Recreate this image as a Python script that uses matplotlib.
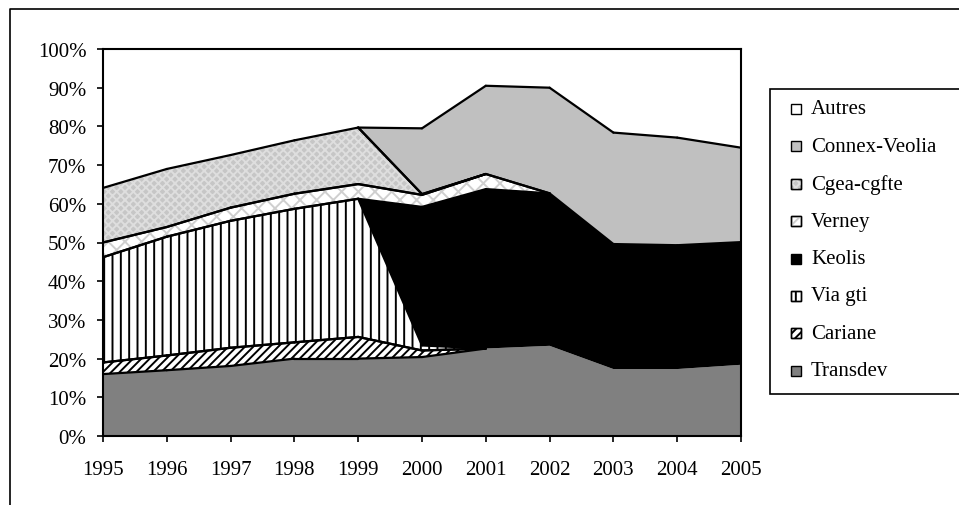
import numpy as np
import matplotlib
matplotlib.use("Agg")
import matplotlib.pyplot as plt
from matplotlib.patches import Rectangle
from matplotlib.lines import Line2D

plt.rcParams['font.family'] = ['Liberation Serif', 'DejaVu Serif']
plt.rcParams['hatch.linewidth'] = 1.4

# données (% du marché, par année)
years = [1995, 1996, 1997, 1998, 1999, 2000, 2001, 2002, 2003, 2004, 2005]
transdev = [16.0, 17.0, 18.1, 20.0, 20.0, 20.4, 22.6, 23.3, 17.3, 17.3, 18.4]
cariane = [3.0, 3.8, 4.7, 4.2, 5.6, 1.7, 0, 0, 0, 0, 0]
via_gti = [27.2, 30.7, 32.8, 34.5, 35.7, 1.3, 0, 0, 0, 0, 0]
keolis = [0, 0, 0, 0, 0, 35.8, 41.2, 39.4, 32.3, 32.0, 31.7]
verney = [3.8, 2.5, 3.4, 3.9, 3.8, 3.1, 3.9, 0, 0, 0, 0]
cgea = [14.1, 15.0, 13.6, 13.8, 14.6, 0.2, 0, 0, 0, 0, 0]
connex = [0, 0, 0, 0, 0, 17.0, 22.8, 27.3, 28.8, 27.8, 24.4]

labels = ["Transdev", "Cariane", "Via gti", "Keolis", "Verney",
          "Cgea-cgfte", "Connex-Veolia", "Autres"]

series = [transdev, cariane, via_gti, keolis, verney, cgea, connex]
total = np.sum(series, axis=0)
autres = list(100 - total)
series.append(autres)

# style: (face, hatch, hatch colour, bordered)
styles = [
    ("#808080", None, None, False),
    ("white", "////", "black", True),
    ("white", "||", "black", True),
    ("black", None, None, False),
    ("white", "xx", "#cfcfcf", True),
    ("#c6c6c6", "xxxx", "#dedede", True),
    ("#c0c0c0", None, None, True),
    ("white", None, None, False),
]

W, H = 959, 506
fig = plt.figure(figsize=(W / 100, H / 100), dpi=100)
ax = fig.add_axes([103 / W, (H - 437) / H, 638 / W, 387 / H])

x = np.array(years)
bottom = np.zeros(len(years))
for vals, (face, hatch, hcol, border) in zip(series, styles):
    top = bottom + np.array(vals)
    ax.fill_between(x, bottom, top, facecolor=face, linewidth=0, zorder=1)
    if hatch:
        ax.fill_between(x, bottom, top, facecolor="none", edgecolor=hcol,
                        hatch=hatch, linewidth=0, zorder=2)
    bottom = top

# contours des séries
bottom = np.zeros(len(years))
for vals, (face, hatch, hcol, border) in zip(series, styles):
    v = np.array(vals)
    top = bottom + v
    if border:
        for i in range(len(years) - 1):
            if v[i] > 0.05 or v[i + 1] > 0.05:
                ax.plot(x[i:i + 2], top[i:i + 2], color="black", lw=1.6,
                        solid_capstyle="round", zorder=3)
                ax.plot(x[i:i + 2], bottom[i:i + 2], color="black", lw=1.6,
                        solid_capstyle="round", zorder=3)
    bottom = top

ax.set_xlim(1995, 2005)
ax.set_ylim(0, 100)
ax.set_xticks(years)
ax.set_xticklabels([str(y) for y in years])
ax.set_yticks(np.arange(0, 101, 10))
ax.set_yticklabels([f"{v}%" for v in range(0, 101, 10)])
ax.tick_params(direction="out", length=4, width=1.2, labelsize=15, colors="black")
ax.tick_params(axis="x", pad=13)
ax.tick_params(axis="y", pad=8)
for s in ax.spines.values():
    s.set_linewidth(1.5)
    s.set_zorder(4)

# cadre extérieur
fig.add_artist(Line2D([9.5 / W, 9.5 / W, 1.01], [-0.01, 1 - 9.5 / H, 1 - 9.5 / H],
                      transform=fig.transFigure, color="black", lw=1.2))

# légende
fig.add_artist(Rectangle((769.5 / W, (H - 395) / H), 200 / W, 305 / H,
                         transform=fig.transFigure, facecolor="white",
                         edgecolor="black", lw=1.2))
y0, step = 110, 37.4
for k, idx in enumerate(range(len(labels) - 1, -1, -1)):
    face, hatch, hcol, border = styles[idx]
    yc = y0 + k * step
    box = ((791 / W, (H - yc - 5) / H), 10 / W, 10 / H)
    fig.add_artist(Rectangle(*box, transform=fig.transFigure, facecolor=face,
                             edgecolor="black", lw=1.0))
    if hatch:
        fig.add_artist(Rectangle(*box, transform=fig.transFigure, facecolor="none",
                                 edgecolor=hcol, hatch=hatch, lw=0))
        fig.add_artist(Rectangle(*box, transform=fig.transFigure, facecolor="none",
                                 edgecolor="black", lw=1.0))
    fig.text(811 / W, (H - yc) / H, labels[idx], fontsize=15,
             va="center", ha="left")

fig.savefig("out.png", dpi=100)
